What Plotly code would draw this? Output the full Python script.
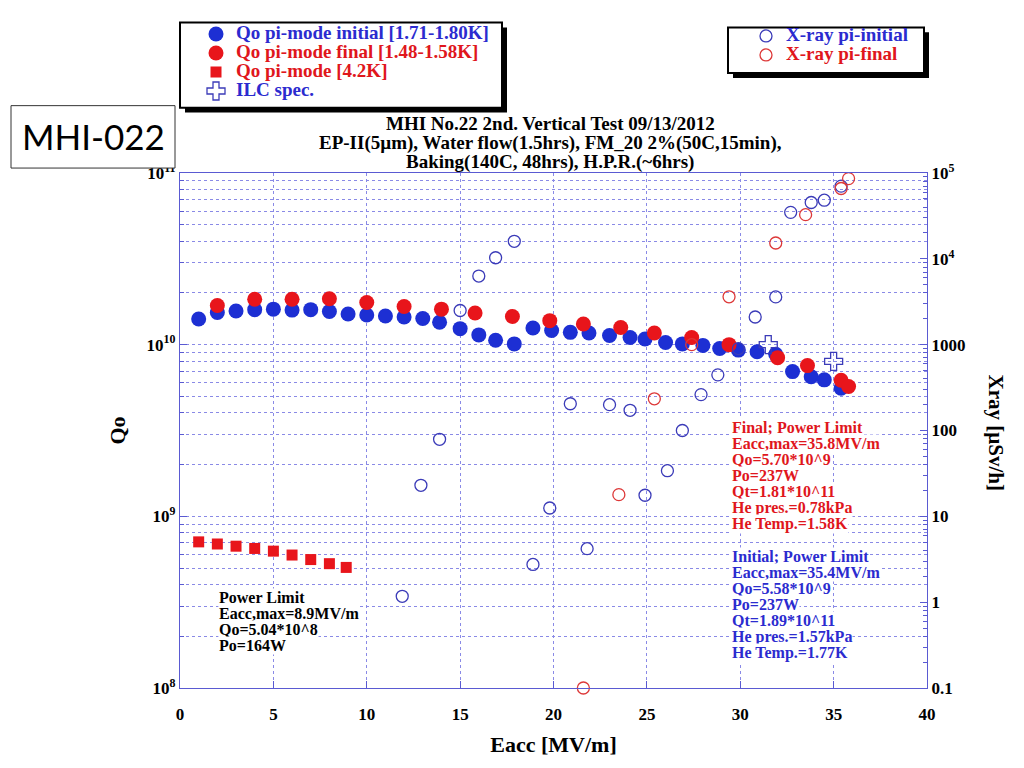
import plotly.graph_objects as go

# ---------------- data ----------------
qo_init_eacc = [1, 2, 3, 4, 5, 6, 7, 8, 9, 10, 11, 12, 13, 13.9, 15, 16, 16.9, 17.9, 18.9, 19.9,
                20.9, 21.9, 23, 24.1, 24.9, 26, 26.9, 28, 28.9, 29.9, 30.9, 31.9, 32.8, 33.8, 34.5, 35.4]
qo_init = [1.41e10, 1.54e10, 1.57e10, 1.60e10, 1.61e10, 1.59e10, 1.60e10, 1.56e10, 1.51e10, 1.49e10,
           1.47e10, 1.45e10, 1.42e10, 1.35e10, 1.24e10, 1.14e10, 1.06e10, 1.01e10, 1.25e10, 1.21e10,
           1.18e10, 1.17e10, 1.13e10, 1.10e10, 1.08e10, 1.03e10, 1.01e10, 9.9e9, 9.5e9, 9.3e9,
           9.1e9, 8.8e9, 6.97e9, 6.5e9, 6.24e9, 5.58e9]

qo_final_eacc = [2, 4, 6, 8, 10, 12, 14, 15.8, 17.8, 19.8, 21.6, 23.6, 25.4, 27.4, 29.4, 32, 33.6, 35.4, 35.8]
qo_final = [1.69e10, 1.84e10, 1.84e10, 1.85e10, 1.76e10, 1.67e10, 1.61e10, 1.53e10, 1.46e10, 1.38e10,
            1.32e10, 1.26e10, 1.17e10, 1.10e10, 1.00e10, 8.4e9, 7.55e9, 6.2e9, 5.70e9]

qo_42k_eacc = [1, 2, 3, 4, 5, 6, 7, 8, 8.9]
qo_42k = [7.1e8, 6.9e8, 6.7e8, 6.5e8, 6.27e8, 5.95e8, 5.6e8, 5.3e8, 5.04e8]

ilc_eacc = [31.5, 35]
ilc_qo = [1.0e10, 8.0e9]

xray_init_eacc = [11.9, 12.9, 13.9, 15, 16, 16.9, 17.9, 18.9, 19.8, 20.9, 21.8, 23, 24.1, 24.9, 26.1,
                  26.9, 27.9, 28.8, 29.9, 30.8, 31.9, 32.7, 33.8, 34.5, 35.4]
xray_init = [1.17, 23, 79, 2500, 6300, 10300, 16000, 2.75, 12.5, 205, 4.2, 200, 172, 17.6, 34,
             100, 262, 445, 900, 2100, 3600, 34800, 45300, 48200, 70300]

xray_final_eacc = [21.6, 23.5, 25.4, 27.4, 29.4, 31.9, 33.5, 35.4, 35.8]
xray_final = [0.1, 17.9, 234, 1000, 3610, 15300, 32700, 66000, 86000]

left_ticks = [1e8, 1e9, 1e10, 1e11]
left_ticktext = ["10<sup>8</sup>", "10<sup>9</sup>", "10<sup>10</sup>", "10<sup>11</sup>"]
right_ticks = [0.1, 1, 10, 100, 1000, 1e4, 1e5]
right_ticktext = ["0.1", "1", "10", "100", "1000", "10<sup>4</sup>", "10<sup>5</sup>"]

title_lines = ["MHI No.22 2nd. Vertical Test 09/13/2012",
               "EP-II(5\u00b5m), Water flow(1.5hrs), FM_20 2%(50C,15min),",
               "Baking(140C, 48hrs), H.P.R.(~6hrs)"]
note_42k = ["Power Limit", "Eacc,max=8.9MV/m", "Qo=5.04*10^8", "Po=164W"]
note_final = ["Final; Power Limit", "Eacc,max=35.8MV/m", "Qo=5.70*10^9", "Po=237W",
              "Qt=1.81*10^11", "He pres.=0.78kPa", "He Temp.=1.58K"]
note_init = ["Initial; Power Limit", "Eacc,max=35.4MV/m", "Qo=5.58*10^9", "Po=237W",
             "Qt=1.89*10^11", "He pres.=1.57kPa", "He Temp.=1.77K"]

# ---------------- styles ----------------
BLUE = "#1d2fd3"
RED = "#e8151b"
TXT_BLUE = "#2b2bcf"
TXT_RED = "#e0161c"
OPEN_BLUE = "#3b3bb8"
OPEN_RED = "#dd3838"
AX = "#5a5ad2"
GRID = "#8a8ae6"
SERIF = "Liberation Serif"

W, H = 1024, 768
OFF = 8                      # page body margin of the html page
SX0, SX1, SY0, SY1 = 180, 927, 168, 688   # plot area in screen pixels
PW, PH = SX1 - SX0, SY1 - SY0


def px(xp):
    return (xp - SX0) / PW


def py(yp):
    return (SY1 - yp) / PH


def span(color, text, size=19):
    return f'<span style="color:{color};font-size:{size}px;font-weight:bold">{text}</span>'


fig = go.Figure()

fig.add_trace(go.Scatter(x=qo_init_eacc, y=qo_init, mode="markers",
                         name=span(TXT_BLUE, "Qo pi-mode initial [1.71-1.80K]"),
                         marker=dict(symbol="circle", size=15, color=BLUE), legend="legend"))
fig.add_trace(go.Scatter(x=qo_final_eacc, y=qo_final, mode="markers",
                         name=span(TXT_RED, "Qo pi-mode final [1.48-1.58K]"),
                         marker=dict(symbol="circle", size=15, color=RED), legend="legend"))
fig.add_trace(go.Scatter(x=qo_42k_eacc, y=qo_42k, mode="markers",
                         name=span(TXT_RED, "Qo pi-mode [4.2K]"),
                         marker=dict(symbol="square", size=11, color=RED), legend="legend"))
fig.add_trace(go.Scatter(x=ilc_eacc, y=ilc_qo, mode="markers",
                         name=span(TXT_BLUE, "ILC spec."),
                         marker=dict(symbol="cross-open", size=15, color=OPEN_BLUE, line=dict(width=1.3)),
                         legend="legend"))
fig.add_trace(go.Scatter(x=xray_init_eacc, y=xray_init, mode="markers", yaxis="y2", cliponaxis=False,
                         name=span(TXT_BLUE, "X-ray pi-initial"),
                         marker=dict(symbol="circle-open", size=12, color=OPEN_BLUE, line=dict(width=1.3)),
                         legend="legend2"))
fig.add_trace(go.Scatter(x=xray_final_eacc, y=xray_final, mode="markers", yaxis="y2", cliponaxis=False,
                         name=span(TXT_RED, "X-ray pi-final"),
                         marker=dict(symbol="circle-open", size=12, color=OPEN_RED, line=dict(width=1.3)),
                         legend="legend2"))

# ---------------- decorations: legend boxes with shadows, label box ----------------
shapes = []
for (x0, y0, x1, y1) in [(180, 16, 502, 102), (728, 21, 924, 67)]:
    shapes.append(dict(type="rect", xref="paper", yref="paper", x0=px(x0 + 5), x1=px(x1 + 5),
                       y0=py(y1 + 5), y1=py(y0 + 5), fillcolor="black", line=dict(width=0), layer="above"))
    shapes.append(dict(type="rect", xref="paper", yref="paper", x0=px(x0), x1=px(x1),
                       y0=py(y1), y1=py(y0), fillcolor="white", line=dict(color="black", width=2),
                       layer="above"))
shapes.append(dict(type="rect", xref="paper", yref="paper", x0=px(11), x1=px(175), y0=py(163), y1=py(100),
                   fillcolor="white", line=dict(color="#333333", width=1), layer="above"))

annotations = []
annotations.append(dict(text="MHI-022", xref="paper", yref="paper", x=px(93), y=py(131),
                        xanchor="center", yanchor="middle", showarrow=False,
                        font=dict(family="Lato", size=35, color="black")))
for i, line in enumerate(title_lines):
    annotations.append(dict(text=line, xref="paper", yref="paper", x=px(550), y=py(118 + 19.5 * i),
                            xanchor="center", yanchor="middle", showarrow=False,
                            font=dict(family=SERIF, size=19, color="black", weight="bold")))
for i, line in enumerate(note_42k):
    annotations.append(dict(text=line, xref="paper", yref="paper", x=px(218), y=py(597 + 16 * i),
                            xanchor="left", yanchor="middle", showarrow=False, bgcolor="white", borderpad=0,
                            font=dict(family=SERIF, size=16, color="black", weight="bold")))
for i, line in enumerate(note_final):
    annotations.append(dict(text=line, xref="paper", yref="paper", x=px(731), y=py(425 + 16.2 * i),
                            xanchor="left", yanchor="middle", showarrow=False, bgcolor="white", borderpad=0,
                            font=dict(family=SERIF, size=16, color=TXT_RED, weight="bold")))
for i, line in enumerate(note_init):
    annotations.append(dict(text=line, xref="paper", yref="paper", x=px(731), y=py(555 + 16.3 * i),
                            xanchor="left", yanchor="middle", showarrow=False, bgcolor="white", borderpad=0,
                            font=dict(family=SERIF, size=16, color=TXT_BLUE, weight="bold")))
annotations.append(dict(text="Xray [\u00b5Sv/h]", xref="paper", yref="paper", x=px(996), y=py(430),
                        xanchor="center", yanchor="middle", textangle=90, showarrow=False,
                        font=dict(family=SERIF, size=21, color="black", weight="bold")))

fig.update_layout(
    width=W, height=H,
    margin=dict(l=SX0 - OFF, r=W - (SX1 - OFF), t=SY0 - OFF, b=H - (SY1 - OFF)),
    paper_bgcolor="white", plot_bgcolor="white",
    font=dict(family=SERIF, color="black"),
    showlegend=True,
    xaxis=dict(range=[0, 40], tick0=0, dtick=5, showgrid=True, gridcolor=GRID, griddash="dot", gridwidth=1,
               zeroline=False, showline=True, linecolor=AX, linewidth=1.3, mirror=True,
               ticks="inside", ticklen=7, tickcolor=AX, ticklabelstandoff=10,
               tickfont=dict(family=SERIF, size=17, color="black", weight="bold"),
               title=dict(text="Eacc [MV/m]", standoff=14,
                          font=dict(family=SERIF, size=22, color="black", weight="bold"))),
    yaxis=dict(type="log", range=[8, 11], tickmode="array", tickvals=left_ticks, ticktext=left_ticktext,
               showgrid=True, gridcolor=GRID, griddash="dot", gridwidth=1, zeroline=False,
               showline=True, linecolor=AX, linewidth=1.3, ticks="inside", ticklen=7, tickcolor=AX,
               minor=dict(dtick="D1", showgrid=True, gridcolor=GRID, griddash="dot", gridwidth=1,
                          ticks="inside", ticklen=4, tickcolor=AX),
               tickfont=dict(family=SERIF, size=17, color="black", weight="bold"),
               title=dict(text="Qo", standoff=14,
                          font=dict(family=SERIF, size=22, color="black", weight="bold"))),
    yaxis2=dict(type="log", range=[-1, 5], overlaying="y", side="right", tickmode="array",
                tickvals=right_ticks, ticktext=right_ticktext, showgrid=False, zeroline=False,
                showline=True, linecolor=AX, linewidth=1.3, ticks="inside", ticklen=7, tickcolor=AX,
                minor=dict(dtick="D1", ticks="inside", ticklen=4, tickcolor=AX, showgrid=False),
                tickfont=dict(family=SERIF, size=17, color="black", weight="bold")),
    legend=dict(x=px(196), y=py(13), xanchor="left", yanchor="top", bgcolor="rgba(0,0,0,0)",
                borderwidth=0, tracegroupgap=0, itemsizing="trace",
                font=dict(family=SERIF, size=12, weight="bold")),
    legend2=dict(x=px(746), y=py(15), xanchor="left", yanchor="top", bgcolor="rgba(0,0,0,0)",
                 borderwidth=0, tracegroupgap=0, itemsizing="trace",
                 font=dict(family=SERIF, size=12, weight="bold")),
    shapes=shapes,
    annotations=annotations,
)

fig.write_html("out.html")
